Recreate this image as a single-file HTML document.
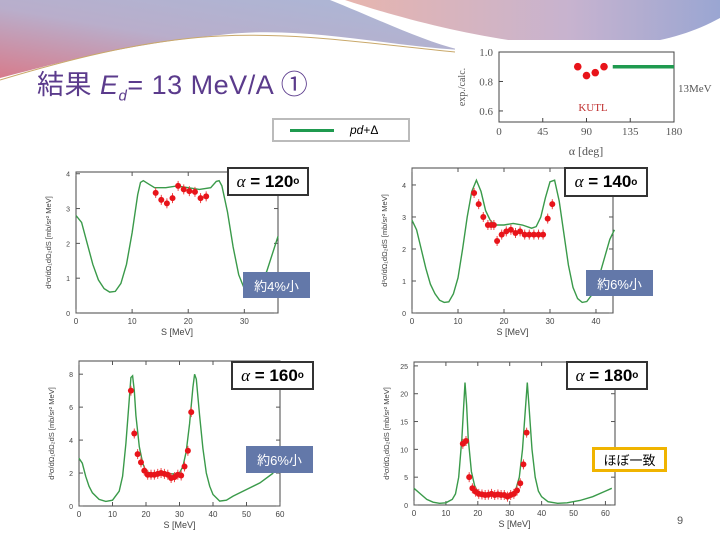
<!DOCTYPE html>
<html><head><meta charset="utf-8"><style>
body{margin:0;width:720px;height:540px;overflow:hidden;background:#fff;font-family:"Liberation Sans","Noto Sans CJK JP",sans-serif;position:relative}
.abs{position:absolute}
.lab{position:absolute;border:2.5px solid #333;background:#fff;font-weight:bold;font-size:17px;display:flex;align-items:center;justify-content:center;box-sizing:border-box}
.blue{position:absolute;background:#6378a9;color:#fff;font-size:13px;display:flex;align-items:center;justify-content:center}
</style></head><body>
<svg class="abs" style="left:0;top:0" width="720" height="540">
<defs>
<linearGradient id="g1" x1="0" y1="1" x2="1" y2="0"><stop offset="0" stop-color="#d77c8c"/><stop offset="0.45" stop-color="#b9aecb"/><stop offset="1" stop-color="#a9b8d8"/></linearGradient>
<linearGradient id="g2" x1="0" y1="0" x2="1" y2="0"><stop offset="0" stop-color="#e7b5ae"/><stop offset="0.6" stop-color="#c7b3cf"/><stop offset="1" stop-color="#9aa6d2"/></linearGradient>
</defs>
<path d="M0,0 L330,0 C380,20 420,40 460,50 C380,45 300,25 220,35 C120,45 50,65 0,78 Z" fill="url(#g1)"/>
<path d="M345,0 L720,0 L720,18 C680,40 630,50 560,46 C480,40 400,18 345,0 Z" fill="url(#g2)"/>
<path d="M0,80 C60,62 140,40 220,36 C300,32 380,45 455,52" fill="none" stroke="#c9a86a" stroke-width="1"/>
</svg>
<div class="abs" style="left:37px;top:63px;font-size:27px;color:#5b3b8c;letter-spacing:0.5px">結果 <i>E<sub style="font-size:15px">d</sub></i>= 13 MeV/A ①</div>
<div class="abs" style="left:272px;top:118px;width:138px;height:24px;border:2px solid #bbb;box-sizing:border-box;background:#fff">
<div class="abs" style="left:16px;top:9px;width:44px;height:3px;background:#1f9a4f"></div>
<div class="abs" style="left:76px;top:3px;font-size:12px"><i>pd</i>+Δ</div></div>
<svg id="ch" class="abs" style="left:0;top:0" width="720" height="540"></svg>
<div class="lab" style="left:227px;top:167px;width:82px;height:29px"><i style="font-weight:normal;font-family:'Liberation Serif',serif">α</i>&nbsp;= 120<sup style="font-size:10px">o</sup></div>
<div class="lab" style="left:564px;top:167px;width:84px;height:30px"><i style="font-weight:normal;font-family:'Liberation Serif',serif">α</i>&nbsp;= 140<sup style="font-size:10px">o</sup></div>
<div class="lab" style="left:231px;top:361px;width:83px;height:29px"><i style="font-weight:normal;font-family:'Liberation Serif',serif">α</i>&nbsp;= 160<sup style="font-size:10px">o</sup></div>
<div class="lab" style="left:566px;top:361px;width:82px;height:29px"><i style="font-weight:normal;font-family:'Liberation Serif',serif">α</i>&nbsp;= 180<sup style="font-size:10px">o</sup></div>
<div class="blue" style="left:243px;top:272px;width:67px;height:26px">約4%小</div>
<div class="blue" style="left:586px;top:270px;width:67px;height:26px">約6%小</div>
<div class="blue" style="left:246px;top:446px;width:67px;height:27px">約6%小</div>
<div class="abs" style="left:592px;top:447px;width:75px;height:25px;border:3px solid #f0b400;box-sizing:border-box;background:#fff;font-size:13px;display:flex;align-items:center;justify-content:center">ほぼ一致</div>
<div class="abs" style="left:677px;top:515px;font-size:11px;color:#555">9</div>
<script>
// Inset ratio chart
const insetAngles=[81,90,99,108];
const insetRatios=[0.90,0.84,0.86,0.90];
const insetLine=[117,180,0.90];
// Panels data
const c1S=[0,1,2,3,4,5,6,7,8,9,10,11,11.5,12,13,14,16,18,20,22,24,25,25.5,26,27,28,29,30,31,32,33,34,35,36];
const c1Y=[2.8,2.6,2.0,1.4,0.95,0.7,0.6,0.62,0.85,1.4,2.3,3.4,3.75,3.8,3.7,3.6,3.6,3.65,3.6,3.55,3.6,3.78,3.8,3.65,2.9,1.9,1.1,0.7,0.62,0.65,0.85,1.2,1.7,2.2];
const d1S=[14.2,15.2,16.2,17.2,18.2,19.2,20.2,21.2,22.2,23.2];
const d1Y=[3.45,3.25,3.15,3.3,3.65,3.55,3.5,3.48,3.3,3.35];
const c2S=[0,1,2,3,4,5,6,7,8,9,10,11,12,13,14,15,16,17,18,20,22,24,26,27,28,29,30,31,32,33,34,35,36,37,38,39,40,41,42,43,44];
const c2Y=[2.9,2.6,2.0,1.4,0.9,0.6,0.4,0.33,0.35,0.6,1.1,2.0,3.0,3.8,4.15,3.8,3.2,2.9,2.75,2.75,2.8,2.75,2.65,2.7,3.0,3.6,4.1,4.15,3.5,2.5,1.5,0.8,0.45,0.33,0.36,0.55,0.9,1.3,1.8,2.3,2.6];
const d2S=[13.5,14.5,15.5,16.5,17.2,17.8,18.5,19.5,20.5,21.5,22.5,23.5,24.5,25.5,26.5,27.5,28.5,29.5,30.5];
const d2Y=[3.75,3.4,3.0,2.75,2.75,2.75,2.25,2.45,2.55,2.6,2.5,2.55,2.45,2.45,2.45,2.45,2.45,2.95,3.4];
const c3S=[0,1,2,3,4,6,8,10,12,13,14,15,15.5,16,16.5,17,18,19,20,22,24,26,28,30,31,32,33,34,34.5,35,36,37,38,39,40,42,44,46,50,54,58];
const c3Y=[2.9,2.6,1.8,1.2,0.8,0.4,0.28,0.35,0.9,1.8,3.8,6.5,7.8,7.9,7.0,5.5,3.6,2.6,2.1,1.95,2.0,2.0,1.95,2.0,2.4,3.3,5.0,7.2,8.0,7.7,5.5,3.5,2.0,1.2,0.7,0.3,0.35,0.6,1.0,1.4,2.0];
const d3S=[15.5,16.5,17.5,18.5,19.5,20.5,21.5,22.5,23.5,24.5,25.5,26.5,27.5,28.5,29.5,30.5,31.5,32.5,33.5];
const d3Y=[7.0,4.4,3.15,2.65,2.15,1.9,1.9,1.9,1.95,2.0,1.95,1.9,1.7,1.75,1.9,1.85,2.4,3.35,5.7];
const c4S=[0,2,4,6,8,10,12,13,14,15,16,16.5,17,18,19,20,22,25,28,30,31,32,33,34,35,35.5,36,37,38,39,40,42,45,48,52,56,60,62];
const c4Y=[3,2,1,0.5,0.3,0.4,1,2,5,12,22,18,12,6,3.5,2.3,1.8,1.8,1.7,1.8,2.2,3,5,10,18,22,18,10,5,2.5,1.5,0.6,0.3,0.4,0.8,1.5,2.5,3];
const d4S=[15.3,16.3,17.3,18.3,19.3,20.3,21.3,22.3,23.3,24.3,25.3,26.3,27.3,28.3,29.3,30.3,31.3,32.3,33.3,34.3,35.3];
const d4Y=[11,11.5,5,3.0,2.4,2.0,1.9,1.8,1.85,2.0,1.8,1.9,1.8,1.8,1.5,1.8,2.0,2.6,3.9,7.3,13];
const xt1=[0,10,20,30], yt1=[0,1,2,3,4];
const xt2=[0,10,20,30,40], yt2=[0,1,2,3,4];
const xt3=[0,10,20,30,40,50,60], yt3=[0,2,4,6,8];
const xt4=[0,10,20,30,40,50,60], yt4=[0,5,10,15,20,25];
const NS='http://www.w3.org/2000/svg';
const svg=document.getElementById('ch');
function mk(t,a,p){const e=document.createElementNS(NS,t);for(const k in a)e.setAttribute(k,a[k]);(p||svg).appendChild(e);return e;}
const panels=[
 {n:'120',L:76,R:278,T:172,B:313,xmax:36,ymax:4.05,cS:c1S,cY:c1Y,dS:d1S,dY:d1Y,xt:xt1,yt:yt1},
 {n:'140',L:412,R:613,T:168,B:313,xmax:43.7,ymax:4.53,cS:c2S,cY:c2Y,dS:d2S,dY:d2Y,xt:xt2,yt:yt2},
 {n:'160',L:79,R:280,T:361,B:506,xmax:60,ymax:8.8,cS:c3S,cY:c3Y,dS:d3S,dY:d3Y,xt:xt3,yt:yt3},
 {n:'180',L:414,R:615,T:362,B:505,xmax:63,ymax:25.7,cS:c4S,cY:c4Y,dS:d4S,dY:d4Y,xt:xt4,yt:yt4}];
panels.forEach(p=>{
 const g=mk('g',{});
 
 
 const X=v=>p.L+v/p.xmax*(p.R-p.L), Y=v=>p.B-v/p.ymax*(p.B-p.T);
 const fr=mk('rect',{x:p.L,y:p.T,width:p.R-p.L,height:p.B-p.T,fill:'none',stroke:'#444','stroke-width':1},g);
 
 
 p.xt.forEach(v=>{mk('line',{x1:X(v),x2:X(v),y1:p.B,y2:p.B-4,stroke:'#555'},g);mk('line',{x1:X(v),x2:X(v),y1:p.T,y2:p.T+4,stroke:'#555'},g);
  const t=mk('text',{x:X(v),y:p.B+11,'font-size':8,'text-anchor':'middle',fill:'#444'},g);t.textContent=v;});
 p.yt.forEach(v=>{mk('line',{x1:p.L,x2:p.L+4,y1:Y(v),y2:Y(v),stroke:'#555'},g);mk('line',{x1:p.R,x2:p.R-4,y1:Y(v),y2:Y(v),stroke:'#555'},g);
  const t=mk('text',{x:p.L-6,y:Y(v)+3,'font-size':7,'text-anchor':'end',fill:'#444'},g);t.textContent=v;});
 const xl=mk('text',{x:(p.L+p.R)/2,y:p.B+22,'font-size':9,'text-anchor':'middle',fill:'#444'},g);xl.textContent='S  [MeV]';
 
 
 const cy=(p.T+p.B)/2,yx=p.L-25;
 const yl=mk('text',{x:yx,y:cy,'font-size':7.5,'text-anchor':'middle',fill:'#444',transform:`rotate(-90 ${yx} ${cy})`},g);
 yl.textContent='d³σ/dΩ₁dΩ₂dS [mb/sr² MeV]';
 
 
 const d=p.cS.map((s,i)=>(i?'L':'M')+X(s).toFixed(1)+','+Y(p.cY[i]).toFixed(1)).join('');
 const c=mk('path',{d:d,fill:'none',stroke:'#3a9a4a','stroke-width':1.4},g);
 
 
 p.dS.forEach((s,i)=>{
  mk('line',{x1:X(s),x2:X(s),y1:Y(p.dY[i])-5,y2:Y(p.dY[i])+5,stroke:'#e44','stroke-width':1},g);
  const pt=mk('circle',{cx:X(s),cy:Y(p.dY[i]),r:3,fill:'#e8141a'},g);
  
  
 });
});
// inset
(function(){
 const L=499,R=674,T=52,B=122,ymin=0.525,ymax=1.0;
 const X=v=>L+v/180*(R-L),Y=v=>B-(v-ymin)/(ymax-ymin)*(B-T);
 const bg=mk('rect',{x:455,y:40,width:265,height:122,fill:'#fff'});
 
 
 const g=mk('g',{});
 
 
 mk('rect',{x:L,y:T,width:R-L,height:B-T,fill:'none',stroke:'#444'},g);
 [0,45,90,135,180].forEach(v=>{mk('line',{x1:X(v),x2:X(v),y1:B,y2:B-4,stroke:'#444'},g);
  const t=mk('text',{x:X(v),y:B+13,'font-size':11,'text-anchor':'middle',fill:'#555','font-family':'Liberation Serif'},g);t.textContent=v;});
 [0.6,0.8,1.0].forEach(v=>{mk('line',{x1:L,x2:L+4,y1:Y(v),y2:Y(v),stroke:'#444'},g);
  const t=mk('text',{x:L-6,y:Y(v)+4,'font-size':11,'text-anchor':'end',fill:'#555','font-family':'Liberation Serif'},g);t.textContent=v.toFixed(1);});
 const xl=mk('text',{x:586,y:155,'font-size':12,'text-anchor':'middle',fill:'#555','font-family':'Liberation Serif'},g);xl.textContent='α [deg]';
 const yl=mk('text',{x:465,y:87,'font-size':10,'text-anchor':'middle',fill:'#555','font-family':'Liberation Serif',transform:'rotate(-90 465 87)'},g);yl.textContent='exp./calc.';
 const k=mk('text',{x:593,y:111,'font-size':11,'text-anchor':'middle',fill:'#c03030','font-family':'Liberation Serif'},g);k.textContent='KUTL';
 const m=mk('text',{x:678,y:92,'font-size':11,fill:'#555','font-family':'Liberation Serif'},g);m.textContent='13MeV';
 const ln=mk('line',{x1:X(insetLine[0]),x2:X(insetLine[1]),y1:Y(insetLine[2]),y2:Y(insetLine[2]),stroke:'#1f9a4f','stroke-width':3.5},g);
 
 
 insetAngles.forEach((a,i)=>{
  const c=mk('circle',{cx:X(a),cy:Y(insetRatios[i]),r:3.8,fill:'#e8141a'},g);
  
  
 });
})();
</script>
</body></html>
